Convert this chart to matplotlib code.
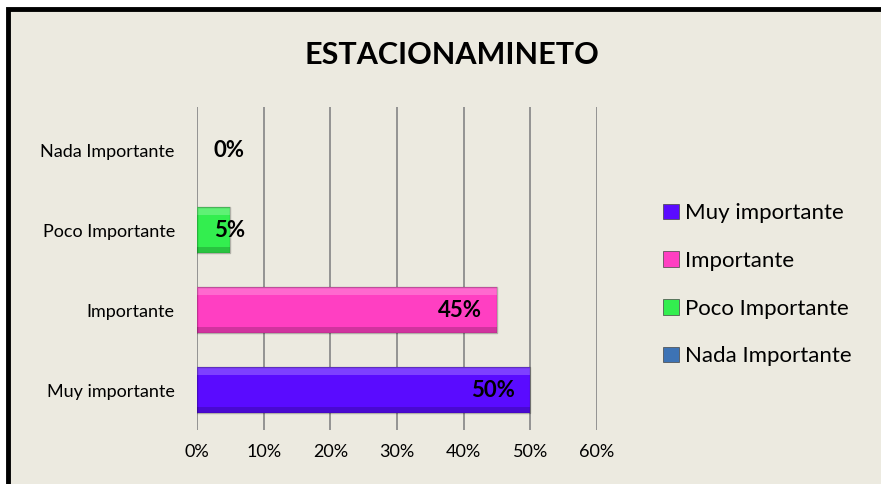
import matplotlib.pyplot as plt
from matplotlib.patches import Rectangle, Patch

# data
categories = ['Muy importante', 'Importante', 'Poco Importante', 'Nada Importante']
values = [50, 45, 5, 0]
colors = ['#5a0bff', '#ff3fc2', '#33ee4f', '#3d73b5']
x_ticks = [0, 10, 20, 30, 40, 50, 60]
title = 'ESTACIONAMINETO'

plt.rcParams['font.family'] = ['Lato', 'DejaVu Sans']
bg = '#eceae0'

fig = plt.figure(figsize=(8.81, 4.84), dpi=100)
fig.patch.set_facecolor('white')

# chart frame with thick black border
frame = Rectangle((8 / 881, -0.1), 1.0, 1 - 9 / 484 + 0.1, transform=fig.transFigure,
                  facecolor=bg, edgecolor='black', linewidth=3.5, zorder=-10)
fig.patches.append(frame)

ax = fig.add_axes([197 / 881, 1 - 430 / 484, 400 / 881, 323 / 484])
ax.set_facecolor(bg)
for s in ax.spines.values():
    s.set_visible(False)

ax.set_xlim(0, 60)
ax.set_ylim(-0.5, 3.54)
ax.set_xticks(x_ticks)
ax.set_xticklabels([f'{t}%' for t in x_ticks], fontsize=13)
ax.tick_params(axis='x', length=0, pad=10)
ax.tick_params(axis='y', length=0, pad=16)
for t in x_ticks:
    ax.axvline(t, color='#8c8c8c', linewidth=1.3, zorder=0)

ypos = list(range(len(categories)))
h = 0.58
bars = ax.barh(ypos, values, height=h, color=colors, edgecolor='none', zorder=3)
ax.set_yticks(ypos)
ax.set_yticklabels(categories, fontsize=13)

# bevel look on the bars
for y, v, c in zip(ypos, values, colors):
    if v <= 0:
        continue
    ax.add_patch(Rectangle((0, y + h / 2 - 0.1), v, 0.1, facecolor='white', alpha=0.22,
                           edgecolor='none', zorder=4))
    ax.add_patch(Rectangle((0, y - h / 2), v, 0.08, facecolor='black', alpha=0.18,
                           edgecolor='none', zorder=4))
    ax.add_patch(Rectangle((0, y - h / 2), v, h, facecolor='none', edgecolor='black',
                           alpha=0.25, linewidth=1, zorder=5))

# value labels
for y, v in zip(ypos, values):
    xl = max(v - 2.3, 7.2)
    ax.text(xl, y, f'{v}%', ha='right', va='center', fontsize=16, fontweight='bold',
            color='black', zorder=6)

fig.text(452 / 881, 1 - 55 / 484, title, ha='center', va='center', fontsize=22,
         fontweight='bold')

handles = [Patch(facecolor=c, edgecolor='#444444', linewidth=0.5) for c in colors]
fig.legend(handles, categories, loc='upper left', bbox_to_anchor=(652 / 881, 1 - 192 / 484),
           frameon=False, fontsize=16, handlelength=0.7, handleheight=0.7,
           handletextpad=0.3, labelspacing=1.25, borderpad=0)

fig.savefig('out.png', dpi=100, facecolor='white')
